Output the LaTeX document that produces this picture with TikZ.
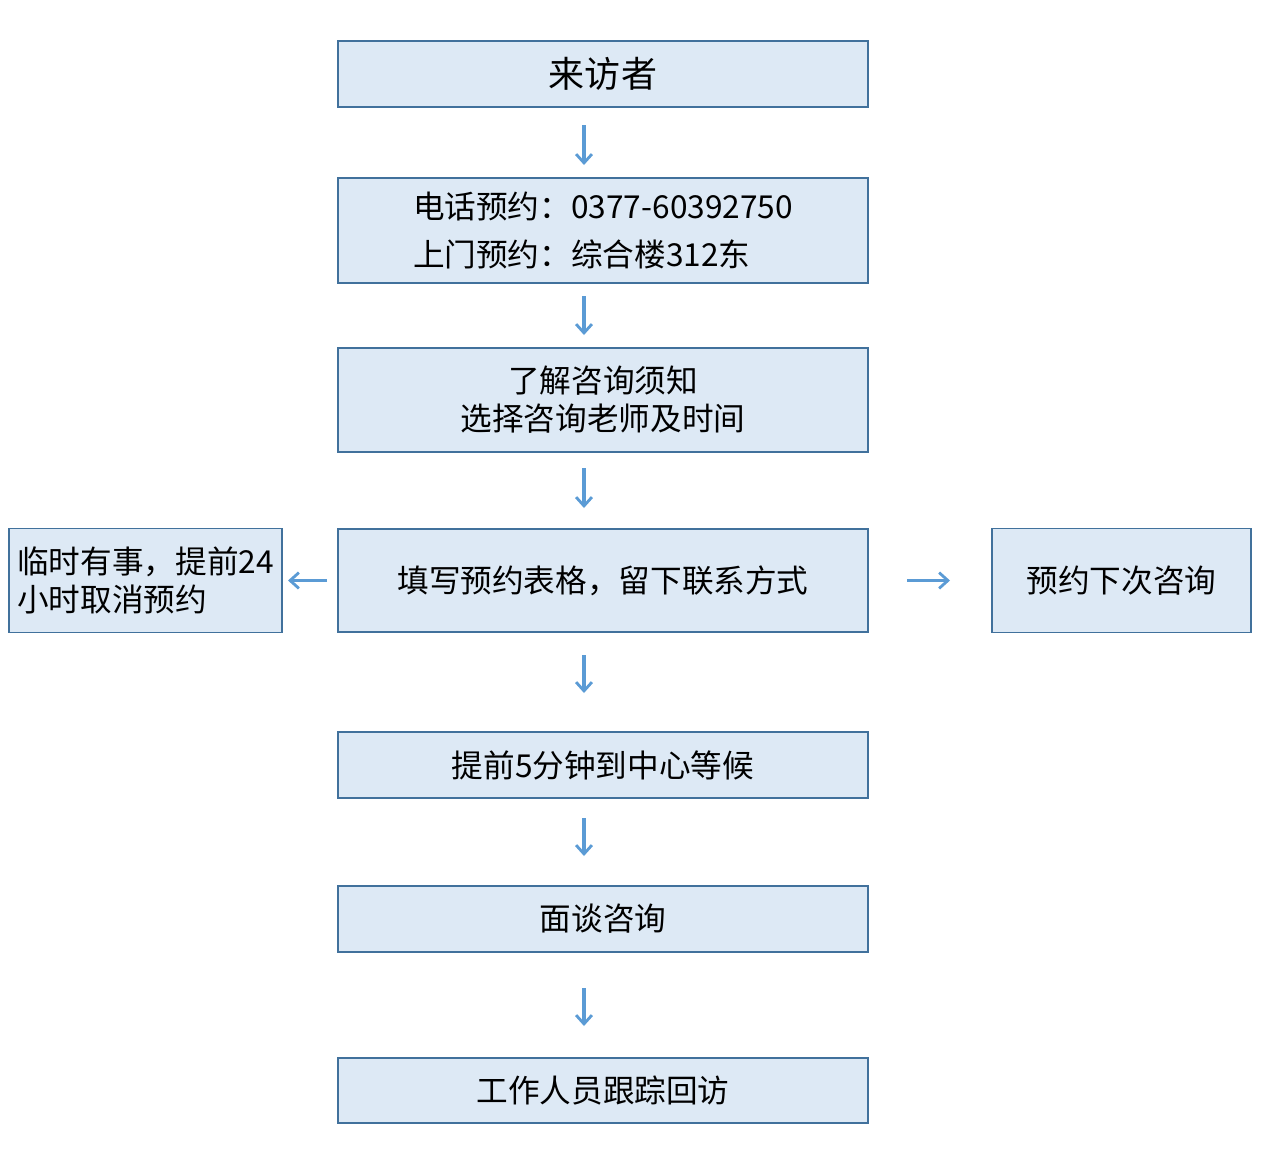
\documentclass[tikz,border=0pt]{standalone}
\usepackage{fontspec}
\usepackage{tikz}
\usepackage{xcolor}
\usetikzlibrary{arrows.meta, positioning}
\setmainfont{Noto Sans CJK SC}
\definecolor{zixunFill}{RGB}{221,233,245}
\definecolor{zixunEdge}{RGB}{65,113,156}
\definecolor{zixunArrow}{RGB}{91,155,213}

\begin{document}
\begin{tikzpicture}[
      step box/.style={draw=zixunEdge, line width=0.6pt, fill=zixunFill, inner sep=0pt, outer sep=0pt,
      minimum width=10.6cm, align=center, font=\fontsize{18}{21.5}\selectfont},
      side box/.style={draw=zixunEdge, line width=0.6pt, fill=zixunFill, inner sep=0pt, outer sep=0pt,
      minimum height=2.07cm, font=\fontsize{18}{21.5}\selectfont},
      arrow/.style={-{Straight Barb[length=5pt, width=9pt, line width=1.6pt]}, line width=1.8pt, draw=zixunArrow}
    ]
    \useasboundingbox (0,0) rectangle (25.28,-23.26);
    \node[step box, minimum height=1.32cm, font=\fontsize{20.5}{24}\selectfont] (visitor) at (12.06,-1.48) {来访者};
    \node[step box, minimum height=2.1cm, below=1.42cm of visitor, align=left,
      font=\fontsize{18}{27}\selectfont] (booking) {电话预约：0377-60392750\\上门预约：综合楼312东};
    \node[step box, minimum height=2.08cm, below=1.3cm of booking] (notice) {了解咨询须知\\选择咨询老师及时间};
    \node[step box, minimum height=2.06cm, below=1.54cm of notice] (form) {填写预约表格，留下联系方式};
    \node[side box, minimum width=5.46cm, left=1.12cm of form, align=left] (cancel) {临时有事，提前24\\小时取消预约};
    \node[side box, minimum width=5.18cm, right=2.48cm of form] (next) {预约下次咨询};
    \node[step box, minimum height=1.32cm, below=2.0cm of form] (arrive) {提前5分钟到中心等候};
    \node[step box, minimum height=1.32cm, below=1.76cm of arrive] (talk) {面谈咨询};
    \node[step box, minimum height=1.3cm, below=2.12cm of talk] (follow) {工作人员跟踪回访};

    \draw[arrow, shorten <=0.36cm, shorten >=0.26cm] ([xshift=-0.38cm]visitor.south) -- ([xshift=-0.38cm]booking.north);
    \draw[arrow, shorten <=0.26cm, shorten >=0.26cm] ([xshift=-0.38cm]booking.south) -- ([xshift=-0.38cm]notice.north);
    \draw[arrow, shorten <=0.32cm, shorten >=0.42cm] ([xshift=-0.38cm]notice.south) -- ([xshift=-0.38cm]form.north);
    \draw[arrow, shorten <=0.46cm, shorten >=0.78cm] ([xshift=-0.38cm]form.south) -- ([xshift=-0.38cm]arrive.north);
    \draw[arrow, shorten <=0.4cm, shorten >=0.6cm] ([xshift=-0.38cm]arrive.south) -- ([xshift=-0.38cm]talk.north);
    \draw[arrow, shorten <=0.72cm, shorten >=0.64cm] ([xshift=-0.38cm]talk.south) -- ([xshift=-0.38cm]follow.north);
    \draw[arrow, shorten <=0.22cm, shorten >=0.12cm] (form.west) -- (cancel.east);
    \draw[arrow, shorten <=0.78cm, shorten >=0.84cm] (form.east) -- (next.west);
  \end{tikzpicture}
\end{document}
